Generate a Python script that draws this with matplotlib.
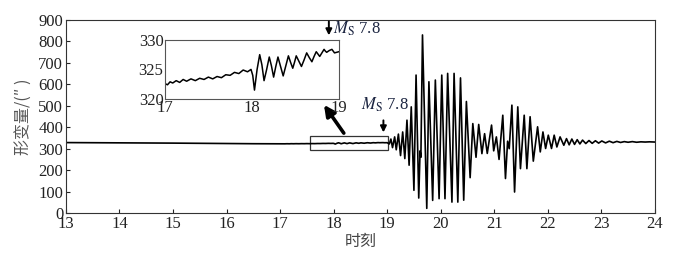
import numpy as np
import matplotlib
matplotlib.use("Agg")
import matplotlib.pyplot as plt
from matplotlib.patches import Rectangle

plt.rcParams['font.family'] = ['Liberation Serif', 'Noto Sans CJK SC', 'DejaVu Sans']
plt.rcParams['mathtext.fontset'] = 'stix'

# --- quiet part, 13 to 17 ---
t_quiet = [13.0, 14.0, 15.0, 16.0, 16.5]
v_quiet = [328.5, 327.5, 326.0, 324.0, 323.2]

# --- the part shown in the inset, 17 to 19 ---
t_inset = [17.00, 17.03, 17.06, 17.09, 17.13, 17.17, 17.21, 17.25, 17.30, 17.35,
           17.40, 17.45, 17.50, 17.55, 17.60, 17.65, 17.70, 17.75, 17.80, 17.85,
           17.90, 17.95, 17.99, 18.01, 18.03, 18.06, 18.09, 18.115, 18.14, 18.17,
           18.20, 18.225, 18.25, 18.275, 18.30, 18.33, 18.36, 18.39, 18.42, 18.445,
           18.47, 18.49, 18.51, 18.54, 18.57, 18.60, 18.63, 18.66, 18.69, 18.715,
           18.74, 18.76, 18.78, 18.805, 18.83, 18.845, 18.86, 18.89, 18.92, 18.95,
           19.00]
v_inset = [322.6, 322.4, 322.9, 322.7, 323.1, 322.8, 323.3, 323.0, 323.4, 323.1,
           323.5, 323.3, 323.7, 323.4, 323.8, 323.6, 324.1, 324.0, 324.5, 324.3,
           324.9, 324.6, 325.0, 324.0, 321.5, 325.0, 327.5, 325.8, 323.1, 325.0,
           327.1, 325.6, 323.7, 325.5, 327.1, 325.5, 323.9, 325.6, 327.3, 326.2,
           325.2, 326.2, 327.3, 326.4, 325.5, 326.6, 327.8, 327.0, 326.3, 327.2,
           328.0, 327.6, 327.2, 327.8, 328.4, 328.1, 327.9, 328.2, 328.4, 327.8,
           328.0]

# --- the quake, 19 to 24 ---
t_quake = [19.04, 19.07, 19.10, 19.14, 19.17, 19.21, 19.25, 19.29, 19.33, 19.37,
           19.41, 19.45, 19.50, 19.54, 19.59, 19.615, 19.63, 19.66, 19.74, 19.78,
           19.85, 19.90, 19.97, 20.02, 20.08, 20.13, 20.21, 20.25, 20.32, 20.37,
           20.43, 20.48, 20.55, 20.60, 20.66, 20.71, 20.77, 20.82, 20.87, 20.95,
           20.99, 21.04, 21.09, 21.16, 21.21, 21.25, 21.28, 21.33, 21.38, 21.44,
           21.49, 21.56, 21.61, 21.67, 21.73, 21.81, 21.86, 21.91, 21.96, 22.01,
           22.07, 22.12, 22.17, 22.23, 22.30, 22.35, 22.40, 22.45, 22.50, 22.55,
           22.60, 22.65, 22.71, 22.77, 22.83, 22.89, 22.95, 23.01, 23.08, 23.15,
           23.22, 23.29, 23.36, 23.43, 23.50, 23.58, 23.66, 23.74, 23.82, 23.90,
           24.00]
v_quake = [322, 345, 305, 355, 295, 368, 268, 378, 254, 433,
           223, 495, 106, 643, 70, 290, 260, 830, 22, 612,
           59, 620, 67, 643, 67, 651, 51, 651, 51, 630,
           60, 520, 165, 417, 260, 413, 277, 370, 278, 410,
           290, 355, 250, 456, 161, 335, 300, 503, 98, 495,
           207, 456, 207, 449, 242, 402, 285, 378, 301, 363,
           301, 363, 308, 355, 316, 347, 318, 345, 320, 342,
           322, 340, 324, 338, 325, 337, 326, 336, 327, 335,
           328, 334, 329, 333, 330, 333, 330, 332, 331, 332,
           331]

t_all = np.array(t_quiet + t_inset + t_quake)
v_all = np.array(v_quiet + v_inset + v_quake)

cjk = ['Noto Sans CJK SC', 'DejaVu Sans']

fig = plt.figure(figsize=(6.73, 2.66), dpi=100)
ax = fig.add_axes([0.098, 0.199, 0.875, 0.726])
ax.plot(t_all, v_all, color='k', lw=1.2)
ax.set_xlim(13, 24)
ax.set_ylim(0, 900)
ax.set_xticks(range(13, 25))
ax.set_yticks(range(0, 901, 100))
ax.tick_params(direction='in', length=3, labelsize=12, colors='#222222', pad=2)
for s in ax.spines.values():
    s.set_color('#333333')
ax.set_xlabel('时刻', family=cjk, fontsize=11.5, color='#444444', labelpad=1)
ax.set_ylabel('形变量/(″ )', family=cjk, fontsize=11.5, color='#555555', labelpad=5)

# box marking the zoomed part, and the arrow to the inset
ax.add_patch(Rectangle((17.56, 294), 1.46, 65, fill=False, ec='#333333', lw=0.9))
ax.annotate('', xy=(17.79, 515), xytext=(18.22, 362),
            arrowprops=dict(arrowstyle='-|>', lw=2.6, color='k', mutation_scale=16))
ax.annotate('', xy=(18.93, 363), xytext=(18.93, 445),
            arrowprops=dict(arrowstyle='-|>', lw=1.4, color='k', mutation_scale=9))
ax.text(18.96, 505, r'$M_{\mathrm{S}}$ 7.8', ha='center', va='center',
        fontsize=12, color='#1c2541')

# inset
axi = fig.add_axes([0.245, 0.628, 0.2585, 0.222])
axi.plot(t_inset, v_inset, color='k', lw=1.1)
axi.set_xlim(17, 19)
axi.set_ylim(320, 330)
axi.set_xticks([17, 18, 19])
axi.set_yticks([320, 325, 330])
axi.tick_params(direction='in', length=0, labelsize=12, colors='#222222', pad=1)
for s in axi.spines.values():
    s.set_color('#555555')
axi.annotate('', xy=(18.885, 330.3), xytext=(18.885, 333.6),
             arrowprops=dict(arrowstyle='-|>', lw=1.4, color='k', mutation_scale=9),
             annotation_clip=False)
axi.text(18.93, 331.8, r'$M_{\mathrm{S}}$ 7.8', ha='left', va='center',
         fontsize=12, color='#1c2541', clip_on=False)

fig.savefig('out.png', dpi=100)
